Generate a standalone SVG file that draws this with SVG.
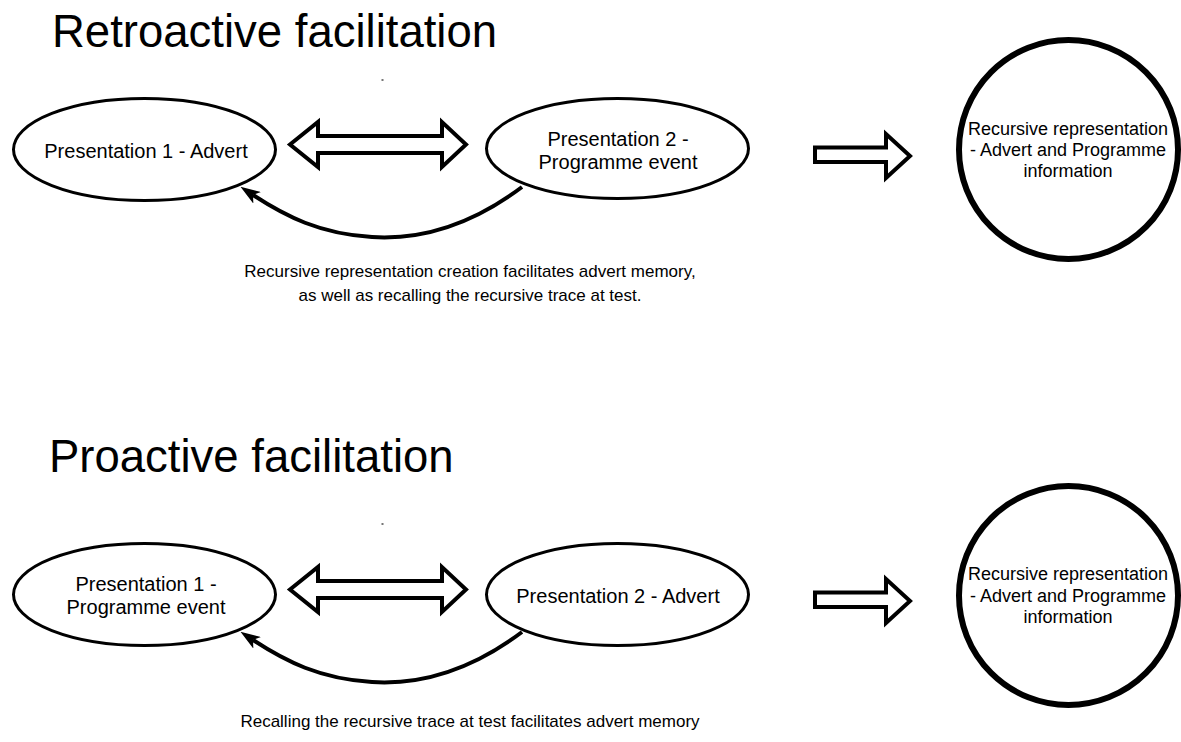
<svg xmlns="http://www.w3.org/2000/svg" width="1181" height="742" viewBox="0 0 1181 742">
<style>
text{font-family:"Liberation Sans",Arial,Helvetica,sans-serif;fill:#000}
.title{font-size:45.5px}
.node{font-size:20px;text-anchor:middle}
.circ{font-size:18px;text-anchor:middle}
.cap{font-size:17px;text-anchor:middle}
.el{fill:#fff;stroke:#000;stroke-width:3}
.ring{fill:#fff;stroke:#000;stroke-width:6}
.bigarrow{fill:#fff;stroke:#000;stroke-width:4;stroke-linejoin:miter}
.curve{fill:none;stroke:#000;stroke-width:4}
.dot{fill:#777}
</style>
<defs>
<marker id="ah" viewBox="0 0 20 14" refX="5" refY="7" markerWidth="20" markerHeight="14" markerUnits="userSpaceOnUse" orient="auto">
<path d="M0,0 L20,7 L0,14 L5,7 Z" fill="#000"/>
</marker>
</defs>
<rect width="1181" height="742" fill="#fff"/>

<text class="title" x="52" y="47">Retroactive facilitation</text>
<rect class="dot" x="381.5" y="79" width="2" height="2"/>

<g id="connectors">
<path class="bigarrow" d="M290,144.5 L318,122 L318,136 L442,136 L442,122 L466,144.5 L442,167 L442,153 L318,153 L318,167 Z"/>
<path class="bigarrow" d="M815,147.5 L886,147.5 L886,134 L910,156 L886,178 L886,162 L815,162 Z"/>
<path class="curve" d="M522,187 C470,226 420,240 372,237 C320,234 285,216 253,195" marker-end="url(#ah)"/>
<path class="bigarrow" d="M290,589.5 L318,567 L318,581 L442,581 L442,567 L466,589.5 L442,612 L442,598 L318,598 L318,612 Z"/>
<path class="bigarrow" d="M815,592.5 L886,592.5 L886,579 L910,601 L886,623 L886,607 L815,607 Z"/>
<path class="curve" d="M522,632 C470,671 420,685 372,682 C320,679 285,661 253,640" marker-end="url(#ah)"/>
</g>

<g id="r-p1">
<ellipse class="el" cx="144.5" cy="149.5" rx="131" ry="51"/>
<text class="node" x="146" y="158">Presentation 1 - Advert</text>
</g>
<g id="r-p2">
<ellipse class="el" cx="617.5" cy="148.5" rx="131" ry="50"/>
<text class="node" x="618" y="146">Presentation 2 -</text>
<text class="node" x="618" y="169">Programme event</text>
</g>
<g id="r-rec">
<circle class="ring" cx="1068.5" cy="149.5" r="109.5"/>
<text class="circ" x="1068" y="135">Recursive representation</text>
<text class="circ" x="1068" y="156">- Advert and Programme</text>
<text class="circ" x="1068" y="177">information</text>
</g>
<g id="r-caption">
<text class="cap" x="470" y="277">Recursive representation creation facilitates advert memory,</text>
<text class="cap" x="470" y="301">as well as recalling the recursive trace at test.</text>
</g>

<text class="title" x="49" y="472">Proactive facilitation</text>
<rect class="dot" x="381.5" y="523" width="2" height="2"/>

<g id="p-p1">
<ellipse class="el" cx="144.5" cy="594.5" rx="131" ry="51"/>
<text class="node" x="146" y="591">Presentation 1 -</text>
<text class="node" x="146" y="614">Programme event</text>
</g>
<g id="p-p2">
<ellipse class="el" cx="617.5" cy="594.5" rx="131" ry="51"/>
<text class="node" x="618" y="603">Presentation 2 - Advert</text>
</g>
<g id="p-rec">
<circle class="ring" cx="1068.5" cy="595.5" r="109.5"/>
<text class="circ" x="1068" y="580">Recursive representation</text>
<text class="circ" x="1068" y="602">- Advert and Programme</text>
<text class="circ" x="1068" y="623">information</text>
</g>
<g id="p-caption">
<text class="cap" x="470" y="727">Recalling the recursive trace at test facilitates advert memory</text>
</g>
</svg>
